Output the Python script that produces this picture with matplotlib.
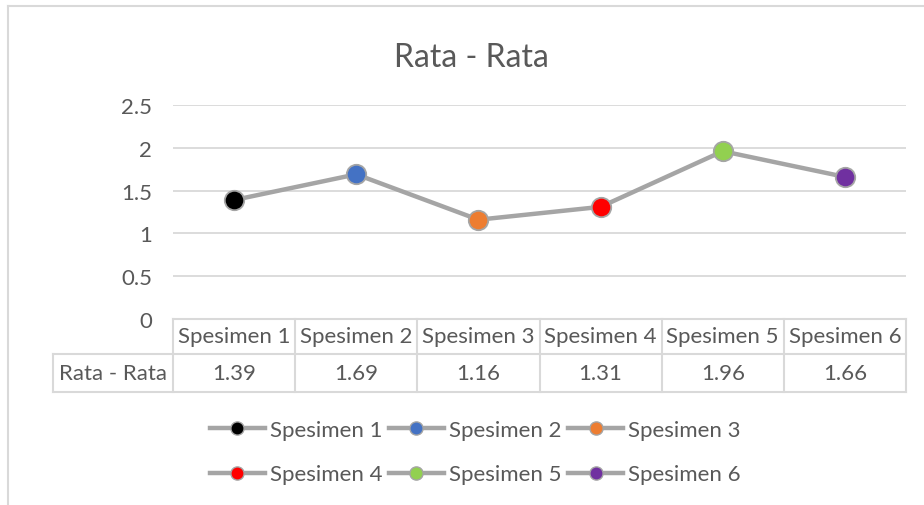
import matplotlib.pyplot as plt
from matplotlib.lines import Line2D
from matplotlib import transforms

plt.rcParams['font.family'] = ['Lato', 'DejaVu Sans']

# data
specimens = ["Spesimen 1", "Spesimen 2", "Spesimen 3", "Spesimen 4", "Spesimen 5", "Spesimen 6"]
rata = [1.39, 1.69, 1.16, 1.31, 1.96, 1.66]
marker_colors = ["#000000", "#4472C4", "#ED7D31", "#FF0000", "#92D050", "#7030A0"]
yticks = [0, 0.5, 1, 1.5, 2, 2.5]
ytick_labels = ["0", "0.5", "1", "1.5", "2", "2.5"]
title = "Rata - Rata"
row_label = "Rata - Rata"

text_col = "#595959"
grid_col = "#D9D9D9"
line_col = "#A5A5A5"
fs = 16

W, H = 924, 506
fig = plt.figure(figsize=(W / 100, H / 100), dpi=100)

def fy(py):
    # pixel row from top -> figure fraction
    return 1 - py / H

ax = fig.add_axes([173 / W, fy(320), (906 - 173) / W, (320 - 106) / H])
x = list(range(len(specimens)))
ax.set_xlim(-0.5, len(specimens) - 0.5)
ax.set_ylim(0, 2.5)
ax.set_yticks(yticks)
ax.set_yticklabels(ytick_labels, color=text_col, fontsize=fs)
ax.set_xticks([])
ax.tick_params(axis='y', length=0, pad=15)
for sp in ax.spines.values():
    sp.set_visible(False)
for yv in yticks[1:]:
    ax.axhline(yv, color=grid_col, lw=1.3, zorder=0)

ax.plot(x, rata, color=line_col, lw=3.2, zorder=2, solid_capstyle='round')
for i in x:
    ax.plot(i, rata[i], 'o', ms=14, mfc=marker_colors[i], mec=line_col, mew=1.3,
            zorder=3, clip_on=False)

# data table under the plot
tr = transforms.blended_transform_factory(ax.transData, fig.transFigure)
y_top, y_mid, y_bot = fy(320), fy(355), fy(393)
x0, x1 = -0.5, len(specimens) - 0.5
lab_left = x0 - 120 / ((906 - 173) / len(specimens))
kw = dict(color=grid_col, lw=1.5, transform=tr, clip_on=False)
fig.add_artist(Line2D([x0, x1], [y_top, y_top], **kw))
fig.add_artist(Line2D([lab_left, x1], [y_mid, y_mid], **kw))
fig.add_artist(Line2D([lab_left, x1], [y_bot, y_bot], **kw))
fig.add_artist(Line2D([lab_left, lab_left], [y_mid, y_bot], **kw))
for k in range(len(specimens) + 1):
    fig.add_artist(Line2D([k - 0.5, k - 0.5], [y_top, y_bot], **kw))
for i, name in enumerate(specimens):
    fig.text(i, (y_top + y_mid) / 2, name, transform=tr, ha='center', va='center',
             fontsize=fs, color=text_col)
    fig.text(i, (y_mid + y_bot) / 2, f"{rata[i]:.2f}", transform=tr, ha='center',
             va='center', fontsize=fs, color=text_col)
fig.text((lab_left + x0) / 2, (y_mid + y_bot) / 2, row_label, transform=tr,
         ha='center', va='center', fontsize=fs, color=text_col)

# legend (row-major order for 3 columns)
handles = [Line2D([], [], color=line_col, lw=3.2, marker='o', ms=9.5, mfc=c, mec=line_col,
                  mew=1.0, label=s) for s, c in zip(specimens, marker_colors)]
order = [0, 3, 1, 4, 2, 5]
leg = fig.legend([handles[i] for i in order], [specimens[i] for i in order],
                 loc='center', bbox_to_anchor=(475 / W, fy(453)), ncol=3, frameon=False,
                 fontsize=fs, handlelength=2.5, handletextpad=0.2, columnspacing=0.3,
                 labelspacing=1.12, numpoints=1)
for t in leg.get_texts():
    t.set_color(text_col)

fig.text(471 / W, fy(58), title, ha='center', va='center', fontsize=23, color=text_col)

# chart area border
fig.add_artist(Line2D([8 / W, 1], [fy(7), fy(7)], color=grid_col, lw=1.5))
fig.add_artist(Line2D([8 / W, 8 / W], [fy(7), 0], color=grid_col, lw=1.5))

fig.savefig("out.png", dpi=100)
